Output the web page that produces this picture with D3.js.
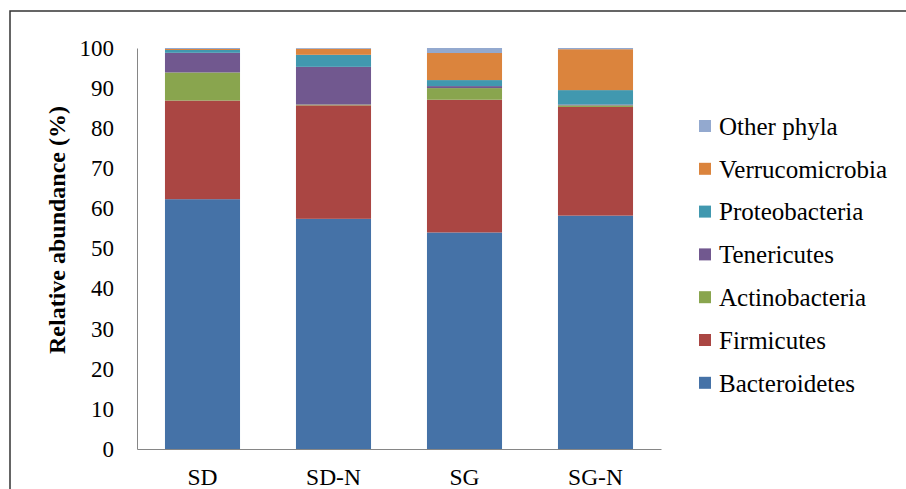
<!DOCTYPE html>
<html>
<head>
<meta charset="utf-8">
<script src="https://cdn.jsdelivr.net/npm/d3@7"></script>
<style>
  body { margin: 0; background: #fff; }
  svg text { font-family: "Liberation Serif", "Times New Roman", Times, serif !important; fill: #000; }
</style>
</head>
<body>
<svg id="chart" width="906" height="489"></svg>
<script>
// samples on the x axis
const samples = ['SD', 'SD-N', 'SG', 'SG-N'];
// phyla, bottom to top of each stack
const phyla = ['Bacteroidetes', 'Firmicutes', 'Actinobacteria', 'Tenericutes',
  'Proteobacteria', 'Verrucomicrobia', 'Other phyla'];
// relative abundance (%) per phylum, one value per sample
const bacteroidetes = [62.3, 57.4, 54.0, 58.2];
const firmicutes = [24.6, 28.3, 33.1, 27.1];
const actinobacteria = [7.0, 0.2, 2.9, 0.4];
const tenericutes = [4.9, 9.4, 0.5, 0.2];
const proteobacteria = [0.7, 3.0, 1.5, 3.6];
const verrucomicrobia = [0.25, 1.5, 6.75, 10.2];
const otherPhyla = [0.25, 0.2, 1.25, 0.3];
const yTicks = [0, 10, 20, 30, 40, 50, 60, 70, 80, 90, 100];

const colors = ['#4572A7', '#AA4643', '#89A54E', '#71588F', '#4198AF', '#DB843D', '#93A9CF'];

const series = [bacteroidetes, firmicutes, actinobacteria, tenericutes,
  proteobacteria, verrucomicrobia, otherPhyla];
const table = samples.map((s, i) => {
  const row = {sample: s};
  phyla.forEach((p, j) => { row[p] = series[j][i]; });
  return row;
});

const svg = d3.select('#chart');

// outer frame (cropped at right and bottom)
svg.append('rect')
    .attr('x', 10).attr('y', 11)
    .attr('width', 940).attr('height', 500)
    .attr('fill', 'none')
    .attr('stroke', '#333')
    .attr('stroke-width', 1.5);

const x = d3.scaleBand()
    .domain(samples)
    .range([137, 661])
    .paddingInner(0.427)
    .paddingOuter(0.2135);

const y = d3.scaleLinear()
    .domain([0, 100])
    .range([449, 48]);

const stack = d3.stack().keys(phyla);
const layers = stack(table);

svg.append('g')
  .selectAll('g')
  .data(layers)
  .join('g')
    .attr('fill', (d, i) => colors[i])
  .selectAll('rect')
  .data(d => d)
  .join('rect')
    .attr('x', d => x(d.data.sample))
    .attr('y', d => y(d[1]))
    .attr('width', x.bandwidth())
    .attr('height', d => y(d[0]) - y(d[1]));

// y axis
const yAxis = d3.axisLeft(y).tickValues(yTicks).tickSize(0).tickPadding(23);
const yAxisG = svg.append('g')
    .attr('transform', 'translate(137,0)')
    .call(yAxis);
yAxisG.select('.domain').attr('stroke', '#868686');
yAxisG.selectAll('text')
    .style('font-size', '23px');

// x axis
const xAxis = d3.axisBottom(x).tickSize(0).tickPadding(19);
const xAxisG = svg.append('g')
    .attr('transform', 'translate(0,449)')
    .call(xAxis);
xAxisG.select('.domain').attr('stroke', '#868686');
xAxisG.selectAll('text')
    .style('font-size', '23.5px');

// y axis title
svg.append('text')
    .attr('transform', 'translate(65,230) rotate(-90)')
    .attr('text-anchor', 'middle')
    .style('font-size', '24px')
    .style('font-weight', 'bold')
    .text('Relative abundance (%)');

// legend, top entry is the last phylum
const legendItems = phyla.map((p, i) => ({name: p, color: colors[i]})).reverse();
const legend = svg.append('g')
    .attr('transform', 'translate(699,126)');
const items = legend.selectAll('g')
    .data(legendItems)
    .join('g')
    .attr('transform', (d, i) => `translate(0,${i * 42.8})`);
items.append('rect')
    .attr('x', 0).attr('y', -6)
    .attr('width', 12).attr('height', 12)
    .attr('fill', d => d.color);
items.append('text')
    .attr('x', 20)
    .attr('dy', '0.35em')
    .style('font-size', '25px')
    .text(d => d.name);
</script>
</body>
</html>
